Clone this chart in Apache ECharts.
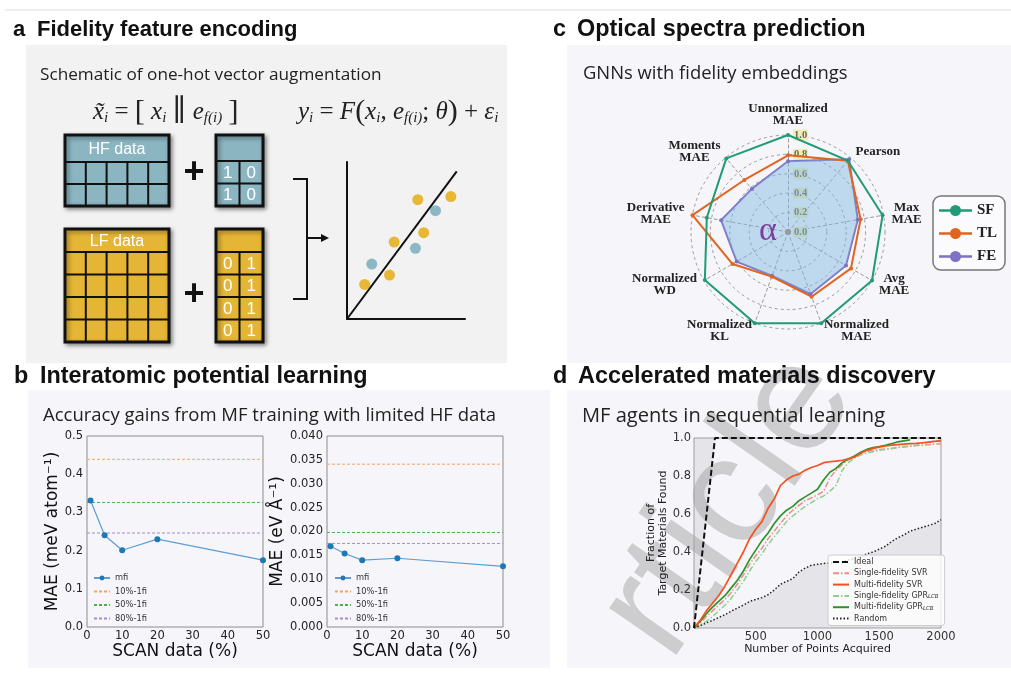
<!DOCTYPE html>
<html>
<head>
<meta charset="utf-8">
<script src="https://cdn.jsdelivr.net/npm/echarts@6/dist/echarts.min.js"></script>
<style>
  html, body { margin: 0; padding: 0; background: #fff; }
  #main { width: 1011px; height: 673px; }
</style>
</head>
<body>
<div id="main"></div>
<script>
// ---- panel b: interatomic potential ----
var scanPct = [1, 5, 10, 20, 50];
var energyMfi = [0.331, 0.240, 0.201, 0.230, 0.175];
var forceMfi = [0.0169, 0.0154, 0.0140, 0.0144, 0.0127];
var baselineNames = ['10%-1fi', '50%-1fi', '80%-1fi'];
var baselineColors = ['#f7a356', '#4cb04c', '#a58ccc'];
var energyBaseline = [0.439, 0.326, 0.246];
var forceBaseline = [0.0341, 0.0198, 0.0175];

// ---- panel c: radar (counter-clockwise from top) ----
var metrics = ['Unnormalized\nMAE', 'Moments\nMAE', 'Derivative\nMAE', 'Normalized\nWD',
  'Normalized\nKL', 'Normalized\nMAE', 'Avg\nMAE', 'Max\nMAE', 'Pearson'];
var sfScores = [1.0, 0.99, 0.85, 0.99, 1.0, 1.0, 1.0, 0.99, 0.96];
var tlScores = [0.79, 0.70, 1.0, 0.66, 0.49, 0.71, 0.75, 0.76, 0.96];
var feScores = [0.73, 0.58, 0.70, 0.61, 0.48, 0.68, 0.69, 0.73, 0.98];

// ---- panel d: sequential learning ----
var pointsAcquired = [0, 50, 100, 150, 200, 250, 300, 350, 400, 450, 500, 550, 600, 650, 700,
  750, 800, 850, 900, 950, 1000, 1050, 1100, 1150, 1200, 1250, 1300, 1350, 1400, 1450, 1500,
  1550, 1600, 1650, 1700, 1750, 1800, 1850, 1900, 1950, 2000];
var idealX = [0, 170, 2000];
var idealY = [0, 1, 1];
var mfSvr = [0, 0.04, 0.09, 0.13, 0.17, 0.22, 0.28, 0.34, 0.40, 0.47, 0.52, 0.56, 0.63, 0.68, 0.75,
  0.78, 0.80, 0.81, 0.83, 0.845, 0.855, 0.87, 0.875, 0.878, 0.883, 0.89, 0.90, 0.92, 0.935, 0.945,
  0.952, 0.958, 0.962, 0.965, 0.968, 0.97, 0.972, 0.975, 0.978, 0.982, 0.985];
var sfSvr = [0, 0.025, 0.06, 0.09, 0.12, 0.15, 0.185, 0.23, 0.28, 0.335, 0.38, 0.42, 0.47, 0.51, 0.55,
  0.59, 0.62, 0.645, 0.67, 0.685, 0.70, 0.72, 0.79, 0.83, 0.86, 0.885, 0.90, 0.92, 0.93, 0.935,
  0.94, 0.942, 0.945, 0.95, 0.953, 0.956, 0.96, 0.962, 0.965, 0.968, 0.97];
var sfGpr = [0, 0.015, 0.035, 0.06, 0.09, 0.12, 0.155, 0.20, 0.245, 0.30, 0.35, 0.39, 0.44, 0.48, 0.52,
  0.56, 0.59, 0.615, 0.64, 0.66, 0.68, 0.695, 0.72, 0.75, 0.83, 0.87, 0.895, 0.91, 0.92, 0.928,
  0.935, 0.94, 0.945, 0.95, 0.955, 0.958, 0.962, 0.97, 0.978, 0.985, 0.99];
var mfGpr = [0, 0.035, 0.075, 0.11, 0.14, 0.17, 0.21, 0.25, 0.30, 0.36, 0.41, 0.46, 0.50, 0.55, 0.59,
  0.62, 0.64, 0.67, 0.69, 0.71, 0.73, 0.78, 0.82, 0.84, 0.87, 0.89, 0.905, 0.925, 0.94, 0.95,
  0.955, 0.962, 0.97, 0.98, 0.985, 0.99];
var randomPick = [0, 0.012, 0.027, 0.04, 0.055, 0.07, 0.088, 0.105, 0.12, 0.14, 0.15, 0.16, 0.175, 0.2, 0.23,
  0.245, 0.26, 0.295, 0.315, 0.33, 0.335, 0.34, 0.342, 0.345, 0.35, 0.358, 0.365, 0.375, 0.39, 0.40,
  0.415, 0.43, 0.455, 0.475, 0.49, 0.51, 0.52, 0.53, 0.54, 0.55, 0.57];
var discoveryNames = ['Ideal', 'Single-fidelity SVR', 'Multi-fidelity SVR', 'Single-fidelity GPR_LCB',
  'Multi-fidelity GPR_LCB', 'Random'];

// ---- panel a: schematic ----
var hfSamples = [[2.1, 3.5], [5.8, 4.5], [7.5, 6.9]];
var lfSamples = [[1.5, 2.2], [3.6, 2.8], [4.0, 4.9], [6.0, 7.6], [6.5, 5.5], [8.8, 7.8]];
var fitLine = [[0, 0], [9.3, 9.4]];
var hfOneHot = [['1', '0'], ['1', '0']];
var lfOneHot = [['0', '1'], ['0', '1'], ['0', '1'], ['0', '1']];

function pairs(xs, ys) {
  return ys.map(function (y, i) { return [xs[i], y]; });
}

var sans = 'Liberation Sans';
var mpl = 'DejaVu Sans';
var serif = 'Liberation Serif';
var g = [];

function bg(x, y, w, h, fill) {
  g.push({ type: 'rect', z: -10, shape: { x: x, y: y, width: w, height: h }, style: { fill: fill } });
}
function txt(x, y, s, size, o) {
  o = o || {};
  g.push({
    type: 'text', z: o.z || 8, x: x, y: y, rotation: o.rotation || 0,
    style: {
      text: s, fontSize: size, fontFamily: o.family || sans, fontWeight: o.weight || 'normal',
      fontStyle: o.style || 'normal', fill: o.color || '#111', align: o.align || 'left',
      verticalAlign: 'middle', rich: o.rich
    }
  });
}
function seg(x1, y1, x2, y2, w, color) {
  g.push({ type: 'line', z: 6, shape: { x1: x1, y1: y1, x2: x2, y2: y2 }, style: { stroke: color || '#111', lineWidth: w } });
}
function table(x, y, w, headH, rowH, nRows, nCols, fill, title, cells) {
  var h = headH + rowH * nRows;
  g.push({
    type: 'rect', z: 4, shape: { x: x, y: y, width: w, height: h },
    style: { fill: fill, stroke: '#111', lineWidth: 3, shadowBlur: 4, shadowOffsetX: 2, shadowOffsetY: 2, shadowColor: 'rgba(0,0,0,0.4)' }
  });
  seg(x, y + headH, x + w, y + headH, 2);
  for (var r = 1; r < nRows; r++) seg(x, y + headH + r * rowH, x + w, y + headH + r * rowH, 2);
  for (var c = 1; c < nCols; c++) seg(x + c * w / nCols, y + headH, x + c * w / nCols, y + h, 2);
  if (title) txt(x + w / 2, y + headH / 2 + 1, title, 16, { color: '#fff', align: 'center' });
  if (cells) {
    cells.forEach(function (row, ri) {
      row.forEach(function (v, ci) {
        txt(x + (ci + 0.5) * w / nCols, y + headH + (ri + 0.5) * rowH + 1, v, 17, { color: '#fff', align: 'center' });
      });
    });
  }
}

// frame + panel boxes
seg(5, 10, 1011, 10, 1, '#dddddd');
bg(26, 45, 481, 318, '#f2f2f2');
bg(567, 45, 444, 318, '#f6f5fa');
bg(28, 390, 522, 278, '#f6f5fa');
bg(567, 390, 444, 278, '#f6f5fa');

// watermark
g.push({
  type: 'text', z: -5, x: 729, y: 505, rotation: 0.96,
  style: { text: 'rticle', fontSize: 155, fontFamily: sans, fill: '#cdcdd0', align: 'center', verticalAlign: 'middle' }
});

// titles
[[13, 30, 'a', 37, 'Fidelity feature encoding', 22], [553, 30, 'c', 577, 'Optical spectra prediction', 23.4],
 [14, 377, 'b', 40, 'Interatomic potential learning', 23.4], [553, 377, 'd', 578, 'Accelerated materials discovery', 23.4]]
  .forEach(function (t) {
    txt(t[0], t[1], t[2], t[5], { weight: 'bold' });
    txt(t[3], t[1], t[4], t[5], { weight: 'bold' });
  });
txt(40, 75, 'Schematic of one-hot vector augmentation', 17.2, { family: 'Open Sans', color: '#222' });
txt(583, 74, 'GNNs with fidelity embeddings', 18.4, { family: 'Open Sans', color: '#222' });
txt(43, 416, 'Accuracy gains from MF training with limited HF data', 18.5, { family: 'Open Sans', color: '#222' });
txt(582, 416, 'MF agents in sequential learning', 20.1, { family: 'Open Sans', color: '#222' });

// formulas
var mathRich = {
  v: { fontFamily: serif, fontStyle: 'italic', fontSize: 25, lineHeight: 28, fill: '#222' },
  o: { fontFamily: serif, fontSize: 25, lineHeight: 28, fill: '#222' },
  p: { fontFamily: serif, fontSize: 30, lineHeight: 28, fill: '#222' },
  q: { fontFamily: 'DejaVu Serif', fontSize: 30, lineHeight: 28, fill: '#222' },
  s: { fontFamily: serif, fontStyle: 'italic', fontSize: 15, lineHeight: 14, verticalAlign: 'bottom', fill: '#222' }
};
txt(93, 112, '{v|x\u0303}{s|i}{o| = }{p|[}{o| }{v|x}{s|i}{o| }{q|\u2225}{o| }{v|e}{s|f(i)}{o| }{p|]}', 25, { rich: mathRich });
txt(298, 112, '{v|y}{s|i}{o| = }{v|F}{p|(}{v|x}{s|i}{o|, }{v|e}{s|f(i)}{o|; }{v|\u03b8}{p|)}{o| + }{v|\u03b5}{s|i}', 25, { rich: mathRich });

// data tables
var hfBlue = '#8ab5c1', lfYellow = '#e5b535';
table(65, 135, 104, 27, 22, 2, 5, hfBlue, 'HF data');
table(216, 135, 47, 26, 22.5, 2, 2, hfBlue, null, hfOneHot);
table(65, 229, 104, 23, 22.5, 4, 5, lfYellow, 'LF data');
table(216, 229, 47, 23, 22.5, 4, 2, lfYellow, null, lfOneHot);
txt(194, 173, '+', 36, { weight: 'bold', align: 'center' });
txt(194, 295, '+', 36, { weight: 'bold', align: 'center' });
g.push({ type: 'polyline', z: 6, shape: { points: [[293, 179], [307, 179], [307, 299], [293, 299]] }, style: { stroke: '#111', lineWidth: 2, fill: null } });
seg(307, 238, 323, 238, 2);
g.push({ type: 'polygon', z: 6, shape: { points: [[321, 234], [329, 238], [321, 242]] }, style: { fill: '#111' } });

// radar decorations
g.push({ type: 'circle', z: 10, shape: { cx: 788, cy: 232, r: 3 }, style: { fill: '#9a9a9a' } });
txt(768, 231, '\u03b1', 34, { family: serif, color: '#7b3fa0', align: 'center', z: 10 });

function fiSeries(idx, mfi, base) {
  var s = [{
    name: 'mfi', type: 'line', xAxisIndex: idx, yAxisIndex: idx, data: pairs(scanPct, mfi),
    symbol: 'circle', symbolSize: 6, z: 5,
    lineStyle: { color: '#5b9fd2', width: 1.2 }, itemStyle: { color: '#1f77b4' }
  }];
  baselineNames.forEach(function (n, i) {
    s.push({
      name: n, type: 'line', xAxisIndex: idx, yAxisIndex: idx,
      data: [[0, base[i]], [50, base[i]]], symbol: 'none',
      lineStyle: { color: baselineColors[i], width: 1, type: [3, 2] }, itemStyle: { color: baselineColors[i] }
    });
  });
  return s;
}

function plainAxis(idx, o) {
  var a = {
    gridIndex: idx, type: 'value',
    axisLine: { show: false }, axisTick: { show: false }, splitLine: { show: false },
    axisLabel: { fontFamily: mpl, fontSize: 11.5, color: '#222', margin: 3 },
    nameLocation: 'middle', nameTextStyle: { fontFamily: mpl, fontSize: 17, color: '#111' }
  };
  for (var k in o) a[k] = o[k];
  return a;
}

// legend entries: only "mfi" keeps a marker
function lineOnly(names) {
  return names.map(function (n) {
    return n === 'mfi' ? { name: n } : { name: n, itemStyle: { opacity: 0 } };
  });
}

var grids = [
  { left: 87, top: 436, width: 176, height: 191, show: true, borderColor: '#8c8c8c', borderWidth: 1 },
  { left: 327, top: 436, width: 176, height: 191, show: true, borderColor: '#8c8c8c', borderWidth: 1 },
  { left: 694, top: 438, width: 247, height: 190, show: true, borderColor: '#a0a0a0', borderWidth: 1 },
  { left: 347, top: 162, width: 118, height: 157 }
];

var blackAxis = { show: true, lineStyle: { color: '#111', width: 2 } };

var option = {
  animation: false,
  graphic: { elements: g },
  grid: grids,
  xAxis: [
    plainAxis(0, { min: 0, max: 50, interval: 10, name: 'SCAN data (%)', nameGap: 13 }),
    plainAxis(1, { min: 0, max: 50, interval: 10, name: 'SCAN data (%)', nameGap: 13 }),
    plainAxis(2, {
      min: 0, max: 2000, interval: 500, name: 'Number of Points Acquired', nameGap: 14,
      nameTextStyle: { fontFamily: mpl, fontSize: 11, color: '#222' },
      axisLabel: { fontFamily: mpl, fontSize: 11.5, color: '#333', margin: 3, showMinLabel: false, formatter: function (v) { return String(v); } }
    }),
    plainAxis(3, { min: 0, max: 10, axisLine: blackAxis, axisLabel: { show: false } })
  ],
  yAxis: [
    plainAxis(0, {
      min: 0, max: 0.5, interval: 0.1, name: 'MAE (meV atom\u207b\u00b9)', nameGap: 22,
      axisLabel: { fontFamily: mpl, fontSize: 11.5, color: '#222', margin: 4, formatter: function (v) { return v.toFixed(1); } }
    }),
    plainAxis(1, {
      min: 0, max: 0.04, interval: 0.005, name: 'MAE (eV \u00c5\u207b\u00b9)', nameGap: 37,
      axisLabel: { fontFamily: mpl, fontSize: 11.5, color: '#222', margin: 4, formatter: function (v) { return v.toFixed(3); } }
    }),
    plainAxis(2, {
      min: 0, max: 1, interval: 0.2, name: 'Fraction of\nTarget Materials Found', nameGap: 22,
      nameTextStyle: { fontFamily: mpl, fontSize: 11, color: '#222', lineHeight: 12 },
      axisLabel: { fontFamily: mpl, fontSize: 11.5, color: '#333', margin: 3, formatter: function (v) { return v.toFixed(1); } }
    }),
    plainAxis(3, { min: 0, max: 10, axisLine: blackAxis, axisLabel: { show: false } })
  ],
  radar: {
    center: [788, 232], radius: 97, startAngle: 90, splitNumber: 5, shape: 'circle',
    indicator: metrics.map(function (m, i) {
      var o = { name: m, min: 0, max: 1 };
      if (i === 0) {
        o.axisLabel = {
          show: true, margin: -5, align: 'left', fontFamily: serif, fontWeight: 'bold', fontSize: 10.5,
          color: '#666', backgroundColor: '#f1eeb0', padding: [0, 1],
          formatter: function (v) { return Number(v).toFixed(1); }
        };
      }
      return o;
    }),
    nameGap: 8,
    axisName: {
      color: '#222',
      formatter: function (name) {
        return name.split('\n').map(function (l) { return '{c|' + l + '}'; }).join('\n');
      },
      rich: { c: { align: 'center', fontFamily: serif, fontWeight: 'bold', fontSize: 13, lineHeight: 12.5, color: '#222' } }
    },
    axisTick: { show: false },
    axisLabel: { show: false },
    splitArea: { show: false },
    splitLine: { lineStyle: { color: '#9a9a9a', type: [3, 3], width: 1 } },
    axisLine: { lineStyle: { color: '#9a9a9a', type: [3, 3], width: 1 } }
  },
  legend: [
    {
      data: lineOnly(['mfi'].concat(baselineNames)), left: 93, top: 574, orient: 'vertical', padding: 0,
      itemWidth: 16, itemHeight: 6, itemGap: 5.5, selectedMode: false,
      textStyle: { fontFamily: mpl, fontSize: 8.3, color: '#333' }
    },
    {
      data: lineOnly(['mfi'].concat(baselineNames)), left: 334, top: 574, orient: 'vertical', padding: 0,
      itemWidth: 16, itemHeight: 6, itemGap: 5.5, selectedMode: false,
      textStyle: { fontFamily: mpl, fontSize: 8.3, color: '#333' }
    },
    {
      data: ['SF', 'TL', 'FE'], left: 933, top: 196, orient: 'vertical', selectedMode: false,
      icon: 'path://M0,4.8h33v2.4h-33z M22,6a5.5,5.5 0 1,1 -11,0a5.5,5.5 0 1,1 11,0z',
      itemWidth: 33, itemHeight: 12, itemGap: 8, padding: [7, 8, 6, 6],
      borderColor: '#777', borderWidth: 1.5, borderRadius: 8, backgroundColor: '#fbfbfd',
      textStyle: { fontFamily: serif, fontWeight: 'bold', fontSize: 15, color: '#222' }
    },
    {
      data: lineOnly(discoveryNames),
      left: 828, top: 555, orient: 'vertical', selectedMode: false,
      itemWidth: 16, itemHeight: 8, itemGap: 3.3, padding: [3, 6, 3, 4],
      backgroundColor: 'rgba(255,255,255,0.8)', borderColor: '#cccccc', borderWidth: 1, borderRadius: 3,
      formatter: function (n) { return n.replace('_LCB', '{s|LCB}'); },
      textStyle: {
        fontFamily: mpl, fontSize: 8, color: '#333', lineHeight: 8,
        rich: { s: { fontFamily: mpl, fontStyle: 'italic', fontSize: 5.5, color: '#333', lineHeight: 5, verticalAlign: 'bottom' } }
      }
    }
  ],
  series: [].concat(
    fiSeries(0, energyMfi, energyBaseline),
    fiSeries(1, forceMfi, forceBaseline),
    [{
      type: 'radar', symbol: 'circle', symbolSize: 4, z: 3,
      data: [
        { name: 'FE', value: feScores, lineStyle: { color: '#7e72c4', width: 2 }, itemStyle: { color: '#7e72c4' }, areaStyle: { color: 'rgba(128,184,226,0.68)' } },
        { name: 'TL', value: tlScores, lineStyle: { color: '#e1641f', width: 2 }, itemStyle: { color: '#e1641f' } },
        { name: 'SF', value: sfScores, lineStyle: { color: '#1f9c77', width: 2 }, itemStyle: { color: '#1f9c77' } }
      ]
    }],
    [
      {
        name: discoveryNames[0], type: 'line', xAxisIndex: 2, yAxisIndex: 2, data: pairs(idealX, idealY), symbol: 'none', z: 6,
        lineStyle: { color: '#111', width: 2, type: [6, 3] }, itemStyle: { color: '#111' },
        areaStyle: { origin: 'end', color: 'rgba(160,160,165,0.28)' }
      },
      {
        name: discoveryNames[1], type: 'line', xAxisIndex: 2, yAxisIndex: 2, data: pairs(pointsAcquired, sfSvr), symbol: 'none',
        lineStyle: { color: '#f08c8c', width: 1.5, type: [6, 2, 1.5, 2] }, itemStyle: { color: '#f08c8c' }
      },
      {
        name: discoveryNames[3], type: 'line', xAxisIndex: 2, yAxisIndex: 2, data: pairs(pointsAcquired, sfGpr), symbol: 'none',
        lineStyle: { color: '#8fcf8f', width: 1.5, type: [6, 2, 1.5, 2] }, itemStyle: { color: '#8fcf8f' }
      },
      {
        name: discoveryNames[4], type: 'line', xAxisIndex: 2, yAxisIndex: 2, data: pairs(pointsAcquired, mfGpr), symbol: 'none',
        lineStyle: { color: '#2a962a', width: 1.7 }, itemStyle: { color: '#2a962a' }
      },
      {
        name: discoveryNames[2], type: 'line', xAxisIndex: 2, yAxisIndex: 2, data: pairs(pointsAcquired, mfSvr), symbol: 'none',
        lineStyle: { color: '#f4511e', width: 1.7 }, itemStyle: { color: '#f4511e' }
      },
      {
        name: discoveryNames[5], type: 'line', xAxisIndex: 2, yAxisIndex: 2, data: pairs(pointsAcquired, randomPick), symbol: 'none',
        lineStyle: { color: '#222', width: 1.5, type: [1.5, 2] }, itemStyle: { color: '#222' },
        areaStyle: { origin: 'start', color: 'rgba(160,160,165,0.28)' }
      }
    ],
    [
      { name: 'fit', type: 'line', xAxisIndex: 3, yAxisIndex: 3, data: fitLine, symbol: 'none', lineStyle: { color: '#111', width: 2 } },
      { name: 'LF sample', type: 'scatter', xAxisIndex: 3, yAxisIndex: 3, data: lfSamples, symbolSize: 11, itemStyle: { color: '#e8b735', opacity: 1 } },
      { name: 'HF sample', type: 'scatter', xAxisIndex: 3, yAxisIndex: 3, data: hfSamples, symbolSize: 11, itemStyle: { color: '#8cb8c4', opacity: 1 } }
    ]
  )
};

var chart = echarts.init(document.getElementById('main'));
chart.setOption(option);
window.addEventListener('resize', function () { chart.resize(); });
</script>
</body>
</html>
